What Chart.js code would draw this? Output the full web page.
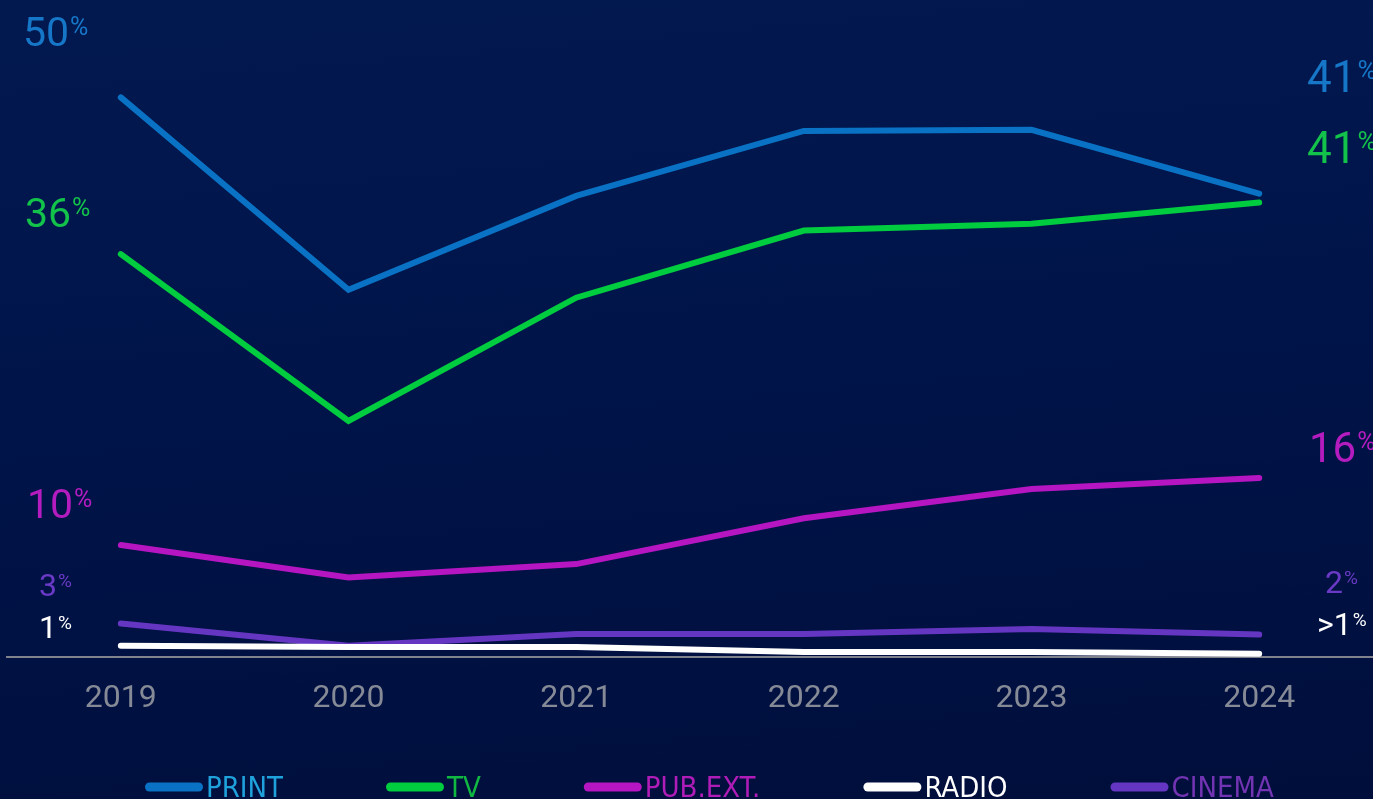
<!DOCTYPE html>
<html>
<head>
<meta charset="utf-8">
<script src="https://cdn.jsdelivr.net/npm/chart.js@4.4.1/dist/chart.umd.min.js"></script>
<style>
  html,body{margin:0;padding:0;}
  body{width:1373px;height:799px;overflow:hidden;
    background:linear-gradient(175deg,#02194f 0%,#00144a 45%,#000e3b 100%);}
  #wrap{position:relative;width:1373px;height:799px;}
</style>
</head>
<body>
<div id="wrap"><canvas id="chart" width="1373" height="799"></canvas></div>
<script>
// data
const years = ['2019','2020','2021','2022','2023','2024'];
const seriesNames = ['PRINT','TV','PUB.EXT.','RADIO','CINEMA'];
const printShare  = [50, 32.8, 41.2, 47.0, 47.1, 41.4];
const tvShare     = [36, 21.1, 32.1, 38.1, 38.7, 40.6];
const pubExtShare = [10, 7.1, 8.3, 12.4, 15.0, 16];
const radioShare  = [1, 0.9, 0.9, 0.45, 0.45, 0.3];
const cinemaShare = [3, 1.0, 2.05, 2.05, 2.5, 2];
const startLabels = ['50','36','10','1','3'];
const endLabels   = ['41','41','16','>1','2'];

// styles
const lineColors   = ['#0a72c4','#00cc3f','#b516c1','#ffffff','#6536c2'];
const valueColors  = ['#1677c8','#12c24a','#b41cc0','#ffffff','#6a3ac6'];
const legendColors = ['#1fa2dc','#10b842','#b01cb8','#ffffff','#7234b2'];
// x, baseline, font size of the value captions
const startPos = [[23,46,41],[25,227,41],[27,518,41],[39,638,32],[39,596,32]];
const endPos   = [[1307,92,44],[1307,163,44],[1309,462,42],[1317,635,32],[1325,593,32]];

const allSeries = [printShare, tvShare, pubExtShare, radioShare, cinemaShare];

function drawValue(ctx, txt, x, base, size, color){
  ctx.save();
  ctx.fillStyle = color;
  ctx.textBaseline = 'alphabetic';
  ctx.textAlign = 'left';
  ctx.font = size + 'px Roboto';
  ctx.fillText(txt, x, base);
  const w = ctx.measureText(txt).width;
  const ps = Math.round(size * 0.6);
  const top = base - size * 0.711;
  ctx.font = ps + 'px Roboto';
  ctx.fillText('%', x + w + 1, top + ps * 0.711);
  ctx.restore();
}

const valueCaptions = {
  id: 'valueCaptions',
  afterDatasetsDraw(chart){
    const ctx = chart.ctx;
    seriesNames.forEach((n, i) => {
      const s = startPos[i], e = endPos[i];
      drawValue(ctx, startLabels[i], s[0], s[1], s[2], valueColors[i]);
      drawValue(ctx, endLabels[i], e[0], e[1], e[2], valueColors[i]);
    });
  }
};

const bottomLegend = {
  id: 'bottomLegend',
  afterDraw(chart){
    const ctx = chart.ctx;
    ctx.save();
    ctx.font = '29px "Liberation Sans Narrow", "DejaVu Sans Condensed", sans-serif';
    ctx.textBaseline = 'alphabetic';
    let x = 145;
    const y = 787;
    seriesNames.forEach((n, i) => {
      ctx.strokeStyle = lineColors[i];
      ctx.lineWidth = 9;
      ctx.lineCap = 'round';
      ctx.beginPath();
      ctx.moveTo(x + 4.5, y);
      ctx.lineTo(x + 53.5, y);
      ctx.stroke();
      ctx.fillStyle = legendColors[i];
      ctx.fillText(n, x + 61, 797);
      x += 61 + ctx.measureText(n).width + 103;
    });
    ctx.restore();
  }
};

function build(){
  new Chart(document.getElementById('chart'), {
    type: 'line',
    data: {
      labels: years,
      datasets: allSeries.map((d, i) => ({
        label: seriesNames[i],
        data: d,
        borderColor: lineColors[i],
        backgroundColor: lineColors[i],
        borderWidth: 6,
        borderCapStyle: 'round',
        borderJoinStyle: 'miter',
        pointRadius: 0,
        tension: 0,
        fill: false
      }))
    },
    options: {
      responsive: false,
      animation: false,
      layout: { padding: { left: 7, right: 0, top: 0, bottom: 0 } },
      plugins: { legend: { display: false }, tooltip: { enabled: false } },
      scales: {
        x: {
          offset: true,
          grid: { display: false, drawTicks: false },
          border: { display: true, color: '#80838e', width: 2 },
          ticks: { color: '#858a96', font: { family: 'Roboto', size: 32 }, padding: 23 },
          afterFit(scale){ scale.height = 142; }
        },
        y: { display: false, min: 0, max: 58.7 }
      }
    },
    plugins: [valueCaptions, bottomLegend]
  });
}

Promise.all([
  document.fonts.load('32px Roboto'),
  document.fonts.load('30px "Liberation Sans Narrow"')
]).then(build, build);
</script>
</body>
</html>
